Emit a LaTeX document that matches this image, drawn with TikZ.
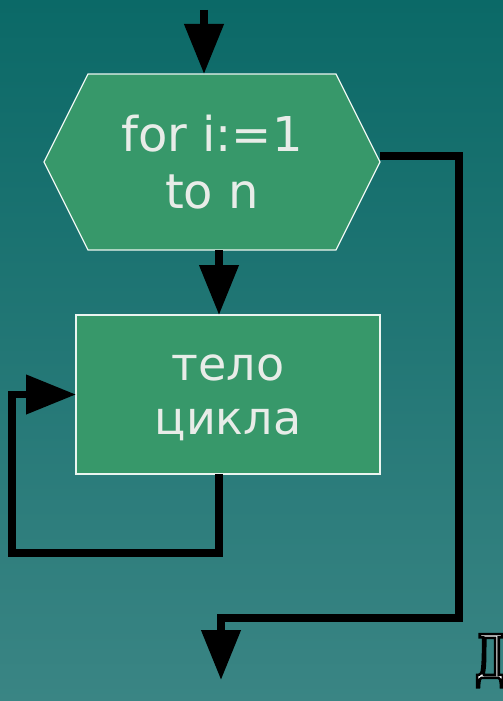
\documentclass[tikz,border=0pt]{standalone}
\usepackage{fontspec}
\setmainfont{DejaVu Sans}
\newfontfamily\letterfont[FakeStretch=0.6]{DejaVu Serif}
\usetikzlibrary{arrows.meta,positioning}
\definecolor{bgtop}{RGB}{11,105,103}
\definecolor{bgbottom}{RGB}{58,133,132}
\definecolor{boxgreen}{RGB}{55,152,106}
\definecolor{boxtext}{RGB}{232,236,232}
\tikzset{hexframe/.style={
    % The border and filling:
    draw=white!90!boxgreen,
    line width=1.3pt,
    fill=boxgreen,
    },
    hextext/.style={
    % The size (same as the hexagon drawn under it):
    rectangle,
    minimum width=336pt,
    minimum height=176pt,
    inner sep=0pt,
    outer sep=0pt,
    % Font
    text=boxtext,
    align=center,
    font=\fontsize{48}{57}\selectfont
    },
    bodybox/.style={
    rectangle,
    minimum width=304pt,
    minimum height=159pt,
    inner sep=0pt,
    outer sep=0pt,
    draw=white!90!boxgreen,
    line width=1.3pt,
    fill=boxgreen,
    text=boxtext,
    align=center,
    text depth=-2pt,
    font=\fontsize{46}{54}\selectfont
    },
    flow/.style={
    line width=7.5pt,
    draw=black,
    -{Triangle[length=50pt,width=38pt]},
    },
}

\begin{document}
\begin{tikzpicture}[x=1pt,y=-1pt,node distance=65pt and 0pt]
    \shade[top color=bgtop,bottom color=bgbottom] (0,0) rectangle (503,701);
    \useasboundingbox (0,0) rectangle (503,701);

    \coordinate (hexc) at (212,162);
    \filldraw[hexframe] (hexc) ++(-168,0) -- ++(44,-88) -- ++(248,0) -- ++(44,88)
        -- ++(-44,88) -- ++(-248,0) -- cycle;
    \node (hex)  [hextext] at (hexc) {for i:=1\\to n};
    \node (body) [bodybox,below=of hex,xshift=16pt] {тело\\цикла};

    \coordinate (start)  at (204,10);
    \coordinate (loopturn) at (12,553);
    \coordinate (exitturn) at (459,618);
    \coordinate (exitend)  at (221,680);

    \draw[flow] (start) -- (start |- hex.north);
    \draw[flow] ([xshift=7pt]hex.south) -- ([xshift=7pt]hex.south |- body.north);
    \draw[flow] ([xshift=-9pt]body.south) |- (loopturn) |- (body.west);
    \draw[flow] ([yshift=6pt]hex.east) -| (exitturn) -| (exitend);

    \node (mark) [text=white,font=\letterfont\fontsize{60}{60}\selectfont,inner sep=0pt,anchor=north]
        at (490,634) {\special{pdf:literal 0 G 2.5 w 2 Tr}Д\special{pdf:literal 0 Tr}};
\end{tikzpicture}
\end{document}
